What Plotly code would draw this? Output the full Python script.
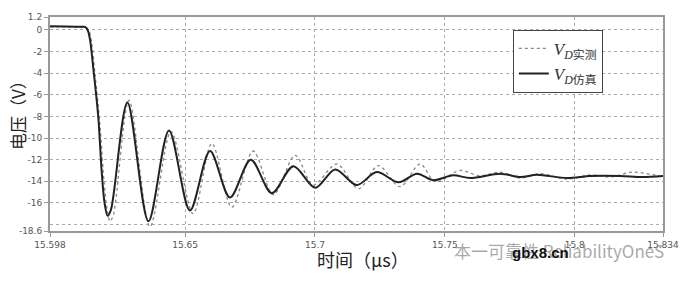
import plotly.graph_objects as go

# ---- data (time in µs, voltage in V) ----
sim_t = [15.598, 15.6040, 15.6100, 15.6115, 15.6125, 15.6134, 15.6147, 15.6166, 15.6179, 15.6190,
         15.6202, 15.6215, 15.6278, 15.6359, 15.6438, 15.6519, 15.6596, 15.6673, 15.6753, 15.6834,
         15.6917, 15.7001, 15.7078, 15.7161, 15.7238, 15.7322, 15.7393, 15.7455, 15.7532, 15.7598,
         15.7713, 15.7791, 15.7855, 15.7971, 15.8060, 15.8176, 15.8260, 15.834]
sim_v = [0.35, 0.33, 0.3, 0.28, 0.0, -0.9, -3.6, -8.1, -13.1, -16.0,
         -17.2, -16.6, -6.7, -17.7, -9.3, -16.7, -11.2, -15.5, -12.0, -15.1,
         -12.6, -14.6, -12.9, -14.35, -13.15, -14.1, -13.3, -13.9, -13.45, -13.7,
         -13.3, -13.6, -13.4, -13.7, -13.5, -13.5, -13.6, -13.5]

meas_t = [15.598, 15.6040, 15.6100, 15.6119, 15.6130, 15.6138, 15.6153, 15.6173, 15.6188, 15.6200,
          15.6211, 15.6224, 15.6284, 15.6365, 15.6446, 15.6531, 15.6603, 15.6680, 15.6762, 15.6840,
          15.6924, 15.6993, 15.7084, 15.7168, 15.7244, 15.7328, 15.7405, 15.7463, 15.7559, 15.7636,
          15.7713, 15.7791, 15.7868, 15.7971, 15.8060, 15.8137, 15.8226, 15.834]
meas_v = [0.3, 0.28, 0.25, 0.2, -0.1, -0.8, -4.0, -9.0, -14.0, -16.6,
          -17.7, -17.1, -6.5, -18.2, -9.4, -17.0, -10.5, -16.4, -11.2, -15.25,
          -11.6, -14.35, -12.4, -14.7, -12.55, -14.5, -12.4, -14.05, -13.0, -13.5,
          -13.15, -13.7, -13.3, -13.8, -13.4, -13.6, -13.15, -13.6]

x_ticks = [15.598, 15.65, 15.7, 15.75, 15.8, 15.834]
x_tick_text = ["15.598", "15.65", "15.7", "15.75", "15.8", "15.834"]
y_ticks = [1.2, 0, -2, -4, -6, -8, -10, -12, -14, -16, -18.6]
y_tick_text = ["1.2", "0", "-2", "-4", "-6", "-8", "-10", "-12", "-14", "-16", "-18.6"]

name_meas = "<i>V</i><sub><i>D</i>实测</sub>"
name_sim = "<i>V</i><sub><i>D</i>仿真</sub>"

fig = go.Figure()
fig.add_trace(go.Scatter(x=meas_t, y=meas_v, mode="lines", name=name_meas,
                         line=dict(color="#888888", width=1.3, dash="dot", shape="spline", smoothing=0.9)))
fig.add_trace(go.Scatter(x=sim_t, y=sim_v, mode="lines", name=name_sim,
                         line=dict(color="#222222", width=2, shape="spline", smoothing=0.9)))

grid = dict(showgrid=True, gridcolor="#aaaaaa", griddash="dot", gridwidth=1)
axis_common = dict(showline=True, linecolor="#999999", linewidth=2, mirror=True,
                   ticks="outside", ticklen=4, tickcolor="#999999", zeroline=False,
                   tickfont=dict(family="DejaVu Sans", size=9, color="#555555"))

fig.update_xaxes(range=[15.598, 15.834], tickvals=x_ticks, ticktext=x_tick_text, **grid, **axis_common)
fig.update_yaxes(range=[-18.6, 1.2], tickvals=y_ticks, ticktext=y_tick_text, **grid, **axis_common)

# extra gridline at -18 (unlabelled)
fig.add_shape(type="line", xref="paper", yref="y", x0=0, x1=1, y0=-18, y1=-18,
              line=dict(color="#aaaaaa", width=1, dash="dot"), layer="below")

fig.update_layout(
    width=691, height=282,
    margin=dict(l=50, r=26, t=14, b=51),
    paper_bgcolor="white", plot_bgcolor="white",
    font=dict(family="Liberation Serif, Noto Sans CJK SC", color="#222222"),
    legend=dict(x=0.755, y=0.94, xanchor="left", yanchor="top",
                bgcolor="white", bordercolor="#444444", borderwidth=1,
                font=dict(family="Liberation Serif, Noto Sans CJK SC", size=17, color="#333333"),
                itemwidth=30, tracegroupgap=2),
    annotations=[
        dict(text="电压（V）", xref="paper", yref="paper", x=-0.053, y=0.558, xanchor="center",
             yanchor="middle", textangle=-90, showarrow=False,
             font=dict(family="Noto Sans CJK SC", size=17, color="#222222")),
        dict(text="时间（µs）", xref="paper", yref="paper", x=0.51, y=-0.133, xanchor="center",
             yanchor="middle", showarrow=False,
             font=dict(family="Noto Sans CJK SC", size=18, color="#222222")),
        dict(text="本一可靠性 ReliabilityOneS", xref="paper", yref="paper", x=0.83, y=-0.09,
             xanchor="center", yanchor="middle", showarrow=False,
             font=dict(family="Noto Sans CJK SC", size=17, color="rgba(140,140,140,0.75)")),
        dict(text="<b>gbx8.cn</b>", xref="paper", yref="paper", x=0.8, y=-0.1,
             xanchor="center", yanchor="middle", showarrow=False,
             font=dict(family="Liberation Sans", size=15, color="#111111")),
    ],
)

fig.write_html("out.html")
